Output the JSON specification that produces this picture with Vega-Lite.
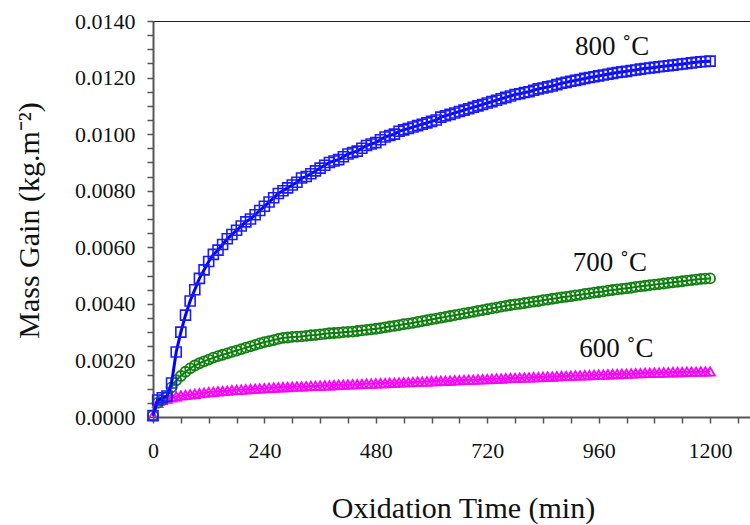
{
  "$schema": "https://vega.github.io/schema/vega-lite/v6.json",
  "width": 597,
  "height": 396,
  "autosize": {"type": "none"},
  "padding": {"left": 153, "top": 21, "right": 0, "bottom": 108},
  "background": "white",
  "config": {
    "view": {"stroke": "#222222", "strokeWidth": 1},
    "axis": {
      "grid": false,
      "domainColor": "#555555",
      "domainWidth": 2,
      "tickColor": "#555555",
      "tickWidth": 1.5,
      "tickSize": 6,
      "labelFont": "Liberation Serif",
      "labelFontSize": 22,
      "labelColor": "#111111",
      "labelOverlap": false,
      "labelFlush": false,
      "titleFont": "Liberation Serif",
      "titleFontSize": 30,
      "titleFontWeight": "normal",
      "titleColor": "#111111"
    }
  },
  "datasets": {
    "c600": [
      {"t":0,"m":0.00005},{"t":10,"m":0.0005},{"t":20,"m":0.0006},{"t":30,"m":0.00065},{"t":40,"m":0.00069},{"t":50,"m":0.00073},{"t":60,"m":0.00076},{"t":70,"m":0.00078},{"t":80,"m":0.0008},{"t":90,"m":0.00082},
      {"t":100,"m":0.00084},{"t":110,"m":0.00086},{"t":120,"m":0.00088},{"t":130,"m":0.00089},{"t":140,"m":0.00091},{"t":150,"m":0.00092},{"t":160,"m":0.00093},{"t":170,"m":0.00095},{"t":180,"m":0.00096},{"t":190,"m":0.00097},
      {"t":200,"m":0.00098},{"t":210,"m":0.00099},{"t":220,"m":0.001},{"t":230,"m":0.00101},{"t":240,"m":0.00102},{"t":250,"m":0.00103},{"t":260,"m":0.00104},{"t":270,"m":0.00105},{"t":280,"m":0.00106},{"t":290,"m":0.00106},
      {"t":300,"m":0.00107},{"t":310,"m":0.00108},{"t":320,"m":0.00108},{"t":330,"m":0.00109},{"t":340,"m":0.0011},{"t":350,"m":0.0011},{"t":360,"m":0.00111},{"t":370,"m":0.00112},{"t":380,"m":0.00112},{"t":390,"m":0.00113},
      {"t":400,"m":0.00114},{"t":410,"m":0.00114},{"t":420,"m":0.00115},{"t":430,"m":0.00116},{"t":440,"m":0.00116},{"t":450,"m":0.00117},{"t":460,"m":0.00118},{"t":470,"m":0.00118},{"t":480,"m":0.00119},{"t":490,"m":0.0012},
      {"t":500,"m":0.0012},{"t":510,"m":0.00121},{"t":520,"m":0.00121},{"t":530,"m":0.00122},{"t":540,"m":0.00123},{"t":550,"m":0.00123},{"t":560,"m":0.00124},{"t":570,"m":0.00125},{"t":580,"m":0.00125},{"t":590,"m":0.00126},
      {"t":600,"m":0.00127},{"t":610,"m":0.00127},{"t":620,"m":0.00128},{"t":630,"m":0.00128},{"t":640,"m":0.00129},{"t":650,"m":0.0013},{"t":660,"m":0.0013},{"t":670,"m":0.00131},{"t":680,"m":0.00132},{"t":690,"m":0.00132},
      {"t":700,"m":0.00133},{"t":710,"m":0.00134},{"t":720,"m":0.00134},{"t":730,"m":0.00135},{"t":740,"m":0.00136},{"t":750,"m":0.00136},{"t":760,"m":0.00137},{"t":770,"m":0.00138},{"t":780,"m":0.00138},{"t":790,"m":0.00139},
      {"t":800,"m":0.0014},{"t":810,"m":0.0014},{"t":820,"m":0.00141},{"t":830,"m":0.00141},{"t":840,"m":0.00142},{"t":850,"m":0.00143},{"t":860,"m":0.00143},{"t":870,"m":0.00144},{"t":880,"m":0.00145},{"t":890,"m":0.00145},
      {"t":900,"m":0.00146},{"t":910,"m":0.00147},{"t":920,"m":0.00147},{"t":930,"m":0.00148},{"t":940,"m":0.00148},{"t":950,"m":0.00149},{"t":960,"m":0.0015},{"t":970,"m":0.0015},{"t":980,"m":0.00151},{"t":990,"m":0.00152},
      {"t":1000,"m":0.00152},{"t":1010,"m":0.00153},{"t":1020,"m":0.00153},{"t":1030,"m":0.00154},{"t":1040,"m":0.00155},{"t":1050,"m":0.00155},{"t":1060,"m":0.00156},{"t":1070,"m":0.00156},{"t":1080,"m":0.00157},{"t":1090,"m":0.00157},
      {"t":1100,"m":0.00158},{"t":1110,"m":0.00158},{"t":1120,"m":0.00159},{"t":1130,"m":0.00159},{"t":1140,"m":0.00159},{"t":1150,"m":0.0016},{"t":1160,"m":0.0016},{"t":1170,"m":0.0016},{"t":1180,"m":0.00161},{"t":1190,"m":0.00161},
      {"t":1200,"m":0.00161}
    ],
    "c700": [
      {"t":0,"m":0.00005},{"t":10,"m":0.0005},{"t":20,"m":0.0006},{"t":30,"m":0.0007},{"t":40,"m":0.00105},{"t":50,"m":0.0013},{"t":60,"m":0.00145},{"t":70,"m":0.0016},{"t":80,"m":0.00172},{"t":90,"m":0.00182},
      {"t":100,"m":0.0019},{"t":110,"m":0.00197},{"t":120,"m":0.00203},{"t":130,"m":0.0021},{"t":140,"m":0.00215},{"t":150,"m":0.0022},{"t":160,"m":0.00225},{"t":170,"m":0.0023},{"t":180,"m":0.00235},{"t":190,"m":0.0024},
      {"t":200,"m":0.00245},{"t":210,"m":0.0025},{"t":220,"m":0.00255},{"t":230,"m":0.0026},{"t":240,"m":0.00265},{"t":250,"m":0.00268},{"t":260,"m":0.00272},{"t":270,"m":0.00276},{"t":280,"m":0.0028},{"t":290,"m":0.00281},
      {"t":300,"m":0.00283},{"t":310,"m":0.00284},{"t":320,"m":0.00285},{"t":330,"m":0.00287},{"t":340,"m":0.00289},{"t":350,"m":0.0029},{"t":360,"m":0.00292},{"t":370,"m":0.00294},{"t":380,"m":0.00296},{"t":390,"m":0.00297},
      {"t":400,"m":0.00298},{"t":410,"m":0.003},{"t":420,"m":0.00301},{"t":430,"m":0.00302},{"t":440,"m":0.00304},{"t":450,"m":0.00306},{"t":460,"m":0.00308},{"t":470,"m":0.0031},{"t":480,"m":0.00312},{"t":490,"m":0.00314},
      {"t":500,"m":0.00317},{"t":510,"m":0.0032},{"t":520,"m":0.00322},{"t":530,"m":0.00325},{"t":540,"m":0.00328},{"t":550,"m":0.0033},{"t":560,"m":0.00333},{"t":570,"m":0.00336},{"t":580,"m":0.00339},{"t":590,"m":0.00342},
      {"t":600,"m":0.00345},{"t":610,"m":0.00348},{"t":620,"m":0.00351},{"t":630,"m":0.00354},{"t":640,"m":0.00357},{"t":650,"m":0.0036},{"t":660,"m":0.00363},{"t":670,"m":0.00366},{"t":680,"m":0.00369},{"t":690,"m":0.00372},
      {"t":700,"m":0.00375},{"t":710,"m":0.00378},{"t":720,"m":0.00381},{"t":730,"m":0.00384},{"t":740,"m":0.00387},{"t":750,"m":0.0039},{"t":760,"m":0.00393},{"t":770,"m":0.00396},{"t":780,"m":0.00398},{"t":790,"m":0.004},
      {"t":800,"m":0.00403},{"t":810,"m":0.00405},{"t":820,"m":0.00408},{"t":830,"m":0.0041},{"t":840,"m":0.00413},{"t":850,"m":0.00415},{"t":860,"m":0.00418},{"t":870,"m":0.0042},{"t":880,"m":0.00423},{"t":890,"m":0.00425},
      {"t":900,"m":0.00427},{"t":910,"m":0.0043},{"t":920,"m":0.00432},{"t":930,"m":0.00435},{"t":940,"m":0.00437},{"t":950,"m":0.0044},{"t":960,"m":0.00442},{"t":970,"m":0.00444},{"t":980,"m":0.00447},{"t":990,"m":0.00449},
      {"t":1000,"m":0.00451},{"t":1010,"m":0.00453},{"t":1020,"m":0.00455},{"t":1030,"m":0.00457},{"t":1040,"m":0.0046},{"t":1050,"m":0.00462},{"t":1060,"m":0.00464},{"t":1070,"m":0.00466},{"t":1080,"m":0.00468},{"t":1090,"m":0.0047},
      {"t":1100,"m":0.00472},{"t":1110,"m":0.00474},{"t":1120,"m":0.00476},{"t":1130,"m":0.00478},{"t":1140,"m":0.0048},{"t":1150,"m":0.00482},{"t":1160,"m":0.00484},{"t":1170,"m":0.00486},{"t":1180,"m":0.00488},{"t":1190,"m":0.00489},
      {"t":1200,"m":0.0049}
    ],
    "c800": [
      {"t":0,"m":0.00005},{"t":10,"m":0.0006},{"t":20,"m":0.00068},{"t":30,"m":0.00074},{"t":40,"m":0.0012},{"t":50,"m":0.0023},{"t":60,"m":0.003},{"t":70,"m":0.0036},{"t":80,"m":0.0041},{"t":90,"m":0.0045},
      {"t":100,"m":0.0049},{"t":110,"m":0.0052},{"t":120,"m":0.0055},{"t":130,"m":0.00575},{"t":140,"m":0.0059},{"t":150,"m":0.0061},{"t":160,"m":0.0063},{"t":170,"m":0.00645},{"t":180,"m":0.0066},{"t":190,"m":0.00675},
      {"t":200,"m":0.0069},{"t":210,"m":0.007},{"t":220,"m":0.00715},{"t":230,"m":0.0073},{"t":240,"m":0.00745},{"t":250,"m":0.0076},{"t":260,"m":0.00775},{"t":270,"m":0.0079},{"t":280,"m":0.008},{"t":290,"m":0.0081},
      {"t":300,"m":0.0082},{"t":310,"m":0.0083},{"t":320,"m":0.00845},{"t":330,"m":0.0085},{"t":340,"m":0.0086},{"t":350,"m":0.0087},{"t":360,"m":0.0088},{"t":370,"m":0.0089},{"t":380,"m":0.009},{"t":390,"m":0.00905},
      {"t":400,"m":0.0091},{"t":410,"m":0.0092},{"t":420,"m":0.0093},{"t":430,"m":0.00935},{"t":440,"m":0.0094},{"t":450,"m":0.0095},{"t":460,"m":0.0096},{"t":470,"m":0.00965},{"t":480,"m":0.0097},{"t":490,"m":0.0098},
      {"t":500,"m":0.0099},{"t":510,"m":0.00995},{"t":520,"m":0.01},{"t":530,"m":0.0101},{"t":540,"m":0.01015},{"t":550,"m":0.0102},{"t":560,"m":0.01025},{"t":570,"m":0.0103},{"t":580,"m":0.01035},{"t":590,"m":0.0104},
      {"t":600,"m":0.01045},{"t":610,"m":0.0105},{"t":620,"m":0.0106},{"t":630,"m":0.01065},{"t":640,"m":0.0107},{"t":650,"m":0.01075},{"t":660,"m":0.0108},{"t":670,"m":0.01085},{"t":680,"m":0.0109},{"t":690,"m":0.01095},
      {"t":700,"m":0.011},{"t":710,"m":0.01105},{"t":720,"m":0.0111},{"t":730,"m":0.01115},{"t":740,"m":0.0112},{"t":750,"m":0.01125},{"t":760,"m":0.0113},{"t":770,"m":0.01135},{"t":780,"m":0.0114},{"t":790,"m":0.01143},
      {"t":800,"m":0.01147},{"t":810,"m":0.0115},{"t":820,"m":0.01155},{"t":830,"m":0.0116},{"t":840,"m":0.01163},{"t":850,"m":0.01167},{"t":860,"m":0.0117},{"t":870,"m":0.01175},{"t":880,"m":0.0118},{"t":890,"m":0.01183},
      {"t":900,"m":0.01187},{"t":910,"m":0.0119},{"t":920,"m":0.01193},{"t":930,"m":0.01197},{"t":940,"m":0.012},{"t":950,"m":0.01203},{"t":960,"m":0.01206},{"t":970,"m":0.01209},{"t":980,"m":0.01212},{"t":990,"m":0.01215},
      {"t":1000,"m":0.01218},{"t":1010,"m":0.0122},{"t":1020,"m":0.01222},{"t":1030,"m":0.01225},{"t":1040,"m":0.01227},{"t":1050,"m":0.0123},{"t":1060,"m":0.01232},{"t":1070,"m":0.01234},{"t":1080,"m":0.01236},{"t":1090,"m":0.01238},
      {"t":1100,"m":0.0124},{"t":1110,"m":0.01242},{"t":1120,"m":0.01244},{"t":1130,"m":0.01246},{"t":1140,"m":0.01248},{"t":1150,"m":0.0125},{"t":1160,"m":0.01252},{"t":1170,"m":0.01254},{"t":1180,"m":0.01256},{"t":1190,"m":0.01257},
      {"t":1200,"m":0.01258}
    ],
    "tags": [
      {"t":989,"m":0.0128,"txt":"800 ˚C"},
      {"t":984,"m":0.00516,"txt":"700 ˚C"},
      {"t":998,"m":0.00212,"txt":"600 ˚C"}
    ]
  },
  "encoding": {
    "x": {
      "field": "t",
      "type": "quantitative",
      "scale": {"domain": [0, 1286], "nice": false, "zero": true},
      "axis": {
        "values": [0,60,120,180,240,300,360,420,480,540,600,660,720,780,840,900,960,1020,1080,1140,1200,1260],
        "labelExpr": "datum.value % 240 === 0 ? datum.label : ''",
        "format": "d",
        "labelPadding": 17,
        "title": "Oxidation Time (min)",
        "titleX": 310,
        "titleY": 100,
        "titleAlign": "center",
        "titleAnchor": null,
        "titleBaseline": "alphabetic"
      }
    },
    "y": {
      "field": "m",
      "type": "quantitative",
      "scale": {"domain": [0, 0.014], "nice": false},
      "axis": {
        "values": [0,0.0005,0.001,0.0015,0.002,0.0025,0.003,0.0035,0.004,0.0045,0.005,0.0055,0.006,0.0065,0.007,0.0075,0.008,0.0085,0.009,0.0095,0.01,0.0105,0.011,0.0115,0.012,0.0125,0.013,0.0135,0.014],
        "labelExpr": "abs(datum.value * 500 - round(datum.value * 500)) < 0.01 ? format(datum.value, '.4f') : ''",
        "labelPadding": 12,
        "title": "Mass Gain (kg.m⁻²)",
        "titleAngle": 270,
        "titleX": -115,
        "titleY": 199,
        "titleAlign": "center",
        "titleAnchor": null,
        "titleBaseline": "alphabetic"
      }
    }
  },
  "layer": [
    {
      "data": {"name": "c600"},
      "layer": [
        {"mark": {"type": "line", "color": "#ff00ff", "strokeWidth": 2}, "encoding": {}},
        {"mark": {"type": "point", "shape": "triangle-up", "filled": false, "color": "#ff00ff", "size": 95, "strokeWidth": 1.8, "opacity": 1}, "encoding": {}}
      ]
    },
    {
      "data": {"name": "c700"},
      "layer": [
        {"mark": {"type": "line", "color": "#008000", "strokeWidth": 2}, "encoding": {}},
        {"mark": {"type": "point", "shape": "circle", "filled": false, "color": "#108010", "size": 100, "strokeWidth": 1.8, "opacity": 1}, "encoding": {}}
      ]
    },
    {
      "data": {"name": "c800"},
      "layer": [
        {"mark": {"type": "line", "color": "#0000ff", "strokeWidth": 3}, "encoding": {}},
        {"mark": {"type": "point", "shape": "square", "filled": false, "color": "#1a1aff", "size": 100, "strokeWidth": 1.6, "opacity": 1}, "encoding": {}}
      ]
    },
    {
      "data": {"name": "tags"},
      "mark": {"type": "text", "font": "Liberation Serif", "fontSize": 27, "align": "center", "baseline": "alphabetic", "color": "#111111"},
      "encoding": {"text": {"field": "txt", "type": "nominal"}}
    }
  ]
}
